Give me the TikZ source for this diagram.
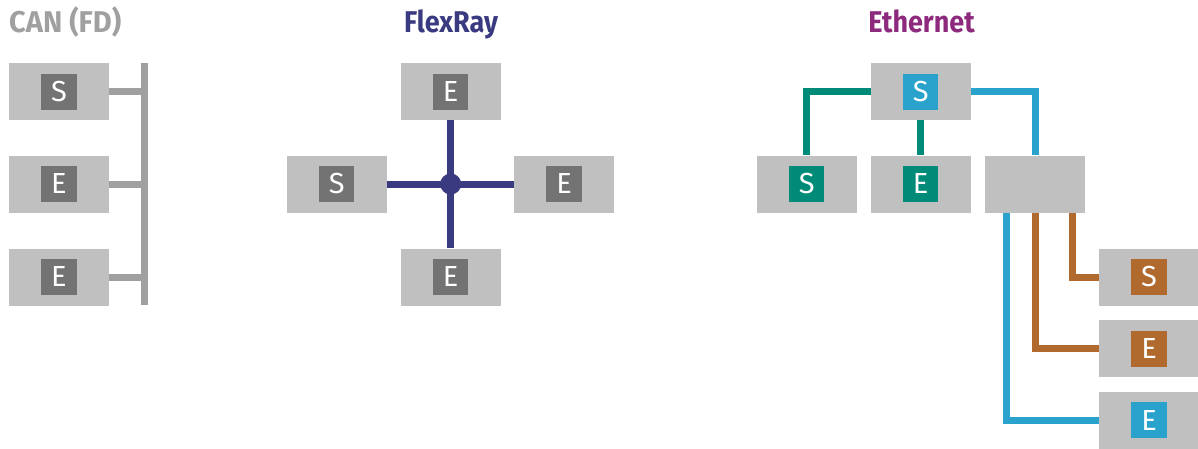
\documentclass[tikz,border=0pt]{standalone}
\usepackage{fontspec}
\setmainfont{Fira Sans}
\usetikzlibrary{calc}
\definecolor{boxgray}{HTML}{C0C0C0}
\definecolor{idgray}{HTML}{737373}
\definecolor{cangray}{HTML}{A0A0A0}
\definecolor{frblue}{HTML}{3A3A80}
\definecolor{ethpurple}{HTML}{8E2A7E}
\definecolor{ethteal}{HTML}{008A78}
\definecolor{ethblue}{HTML}{29A3CC}
\definecolor{ethbrown}{HTML}{B06A2E}
\tikzset{
  ecu/.style={rectangle, fill=boxgray, minimum width=100pt, minimum height=57pt, inner sep=0pt},
  tag/.style={rectangle, fill=#1, minimum width=35.5pt, minimum height=36pt, inner sep=0pt, text=white,
    font=\fontsize{29}{29}\selectfont},
  ttl/.style={anchor=base, font=\bfseries\fontsize{30}{30}\selectfont},
  wire/.style={line width=7pt, draw=#1},
}
\begin{document}
\begin{tikzpicture}[x=1pt,y=-1pt]
\useasboundingbox (0,0) rectangle (1198,448);
\fill[white] (0,0) rectangle (1198,448);
% ---------- CAN ----------
\node[ttl, text=cangray, anchor=base west, inner sep=0pt] (tcan) at (9,32) {\scalebox{0.97}[1]{CAN (FD)}};
\node[ecu] (c1) at (59,91.5) {};
\node[ecu] (c2) at (59,184) {};
\node[ecu] (c3) at (59,277) {};
\node[tag=idgray] (c1t) at (c1) {S};
\node[tag=idgray] (c2t) at (c2) {E};
\node[tag=idgray] (c3t) at (c3) {E};
\coordinate (busT) at (144.5,63);
\coordinate (busB) at (144.5,305);
\draw[wire=cangray] (busT) -- (busB);
\draw[wire=cangray] (c1.east) -- (c1.east -| busT);
\draw[wire=cangray] (c2.east) -- (c2.east -| busT);
\draw[wire=cangray] (c3.east) -- (c3.east -| busT);
% ---------- FlexRay ----------
\node[ttl, text=frblue] (tfr) at (451,32) {\scalebox{0.9}[1]{FlexRay}};
\node[ecu] (ft) at (450.7,91.5) {};
\node[ecu] (fl) at (336.7,184) {};
\node[ecu] (fr) at (564,184) {};
\node[ecu] (fb) at (450.7,277) {};
\node[tag=idgray] (ftt) at (ft) {E};
\node[tag=idgray] (flt) at (fl) {S};
\node[tag=idgray] (frt) at (fr) {E};
\node[tag=idgray] (fbt) at (fb) {E};
\node[circle, fill=frblue, minimum size=21pt, inner sep=0pt] (star) at (450.7,184) {};
\draw[wire=frblue] (fl.east) -- (fr.west);
\draw[wire=frblue] (ft.south) -- (fb.north);
% ---------- Ethernet ----------
\node[ttl, text=ethpurple] (teth) at (921.5,32) {\scalebox{0.9}[1]{Ethernet}};
\node[ecu] (et) at (920.7,91.5) {};
\node[ecu] (el) at (806.7,184) {};
\node[ecu] (em) at (920.7,184) {};
\node[ecu] (esw) at (1035,184) {};
\node[ecu] (r1) at (1149,277) {};
\node[ecu] (r2) at (1149,348.5) {};
\node[ecu] (r3) at (1149,420) {};
\node[tag=ethblue] (ett) at (et) {S};
\node[tag=ethteal] (elt) at (el) {S};
\node[tag=ethteal] (emt) at (em) {E};
\node[tag=ethbrown] (r1t) at (r1) {S};
\node[tag=ethbrown] (r2t) at (r2) {E};
\node[tag=ethblue] (r3t) at (r3) {E};
\draw[wire=ethteal] (et.west) -| (el.north);
\draw[wire=ethteal] (et.south) -- (em.north);
\draw[wire=ethblue] (et.east) -| (esw.north);
\draw[wire=ethblue] ([xshift=-28.3pt]esw.south) |- (r3.west);
\draw[wire=ethbrown] (esw.south) |- (r2.west);
\draw[wire=ethbrown] ([xshift=37.7pt]esw.south) |- (r1.west);
\end{tikzpicture}
\end{document}
